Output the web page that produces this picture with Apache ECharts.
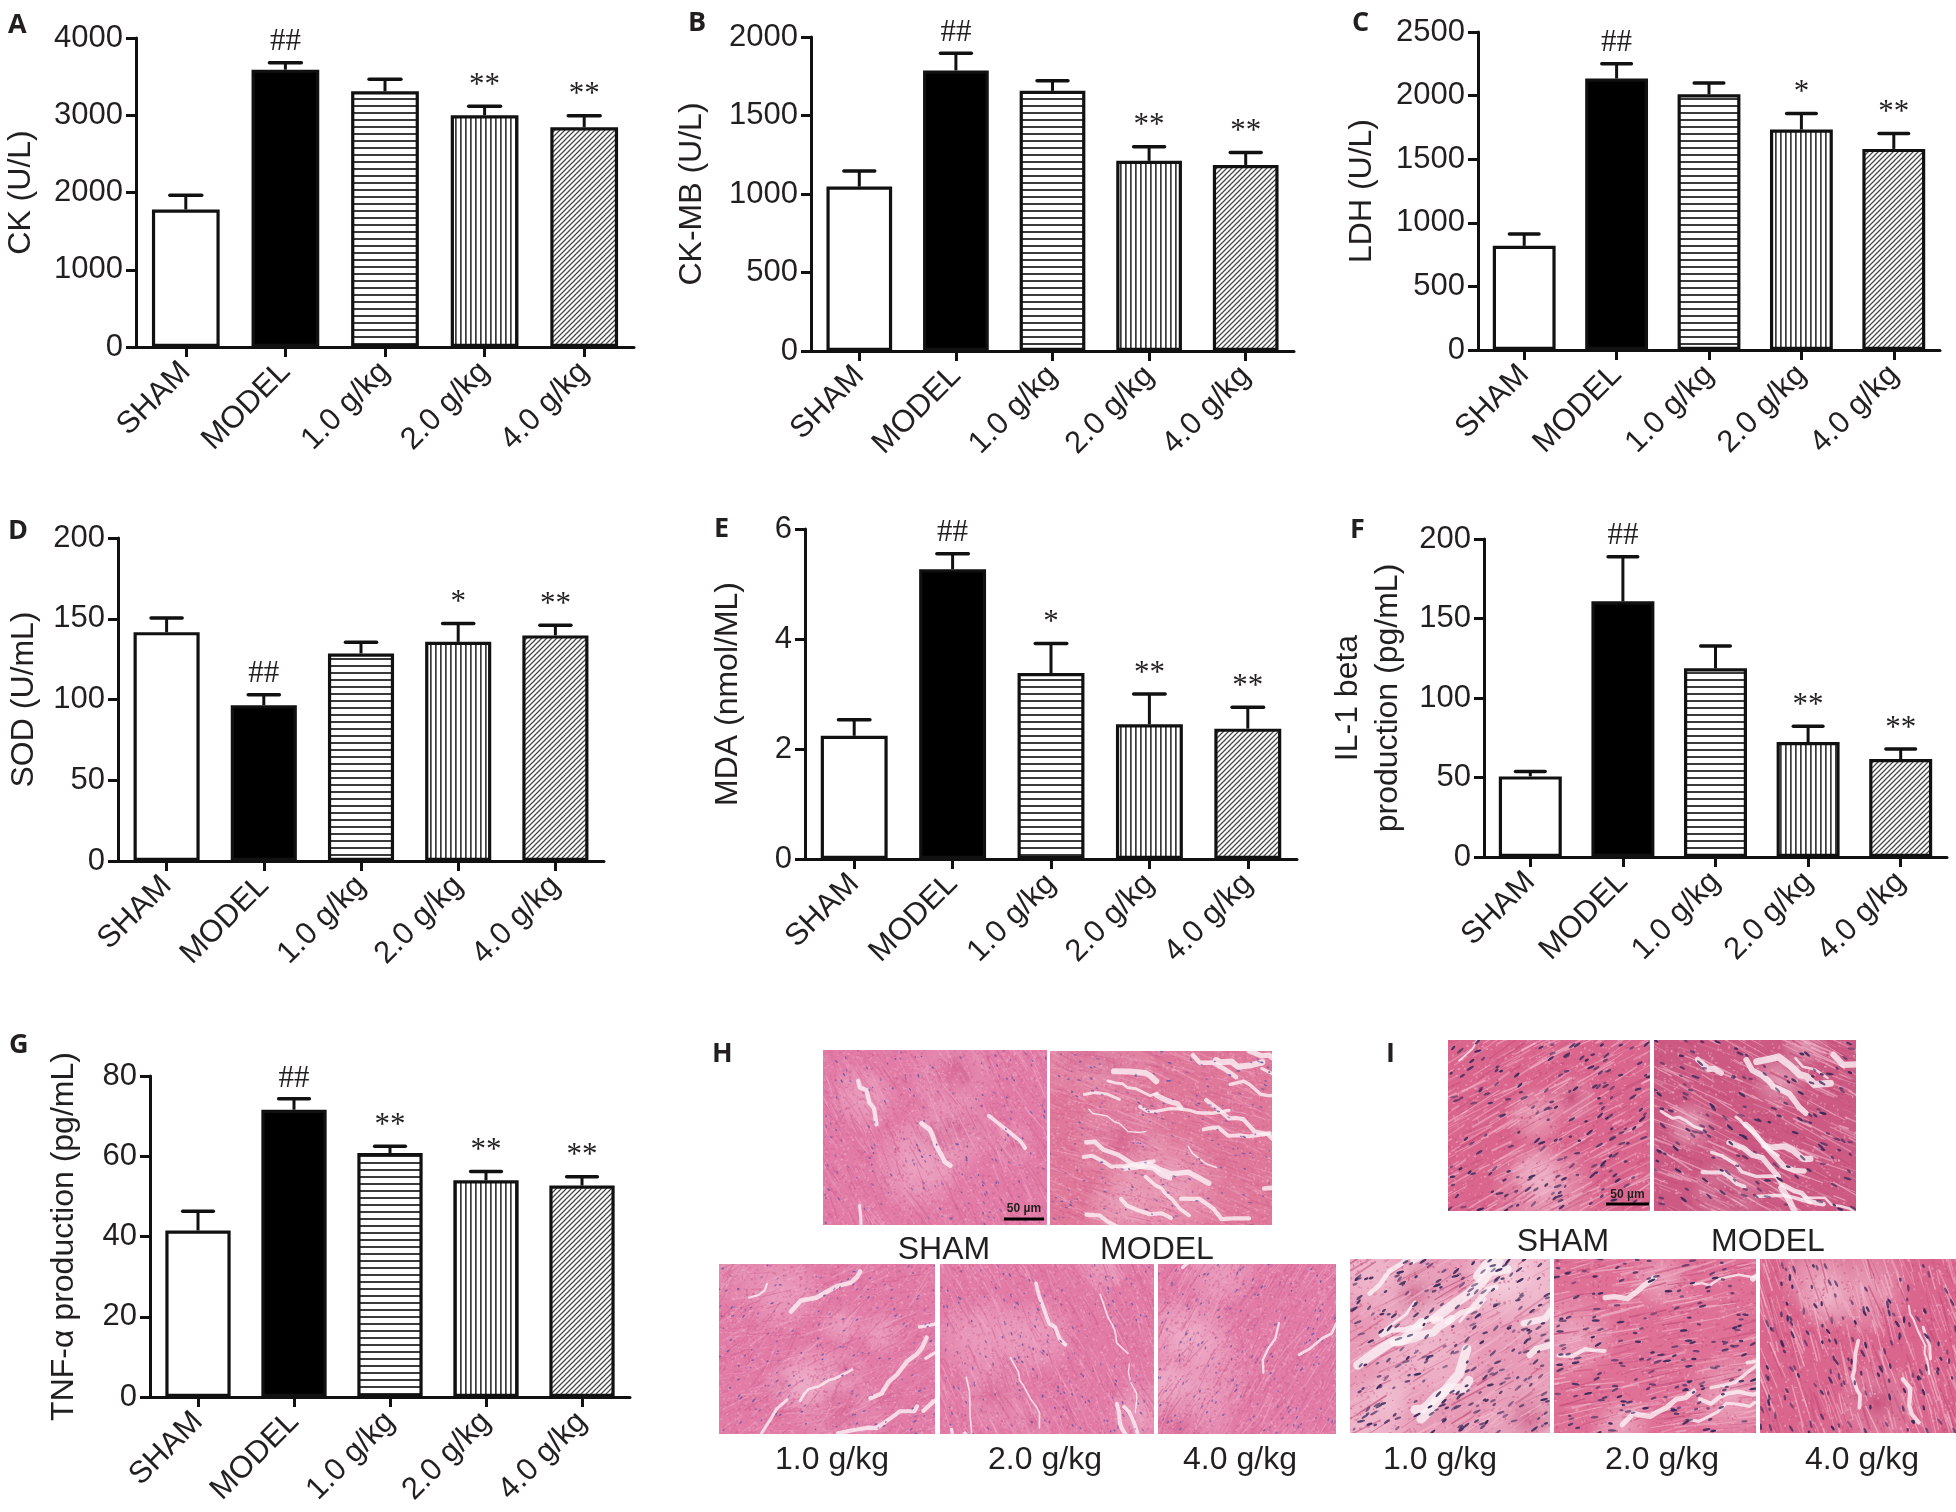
<!DOCTYPE html>
<html><head><meta charset="utf-8">
<script src="https://cdn.jsdelivr.net/npm/echarts@6/dist/echarts.min.js"></script>
<style>html,body{margin:0;padding:0;background:#fff}#c{width:1956px;height:1512px}</style>
</head><body><div id="c"></div>
<script>
// ---------------- data ----------------
const categories = ['SHAM', 'MODEL', '1.0 g/kg', '2.0 g/kg', '4.0 g/kg'];

const ckMean = [1780, 3590, 3310, 3000, 2845];
const ckErr  = [185, 90, 155, 115, 150];
const ckSig  = ['', '##', '', '**', '**'];
const ckTicks = [0, 1000, 2000, 3000, 4000];

const ckmbMean = [1047, 1787, 1657, 1211, 1185];
const ckmbErr  = [100, 110, 65, 90, 80];
const ckmbSig  = ['', '##', '', '**', '**'];
const ckmbTicks = [0, 500, 1000, 1500, 2000];

const ldhMean = [819, 2134, 2010, 1733, 1581];
const ldhErr  = [92, 117, 89, 126, 121];
const ldhSig  = ['', '##', '', '*', '**'];
const ldhTicks = [0, 500, 1000, 1500, 2000, 2500];

const sodMean = [141.7, 96.5, 128.5, 135.7, 139.7];
const sodErr  = [8.7, 6.4, 7.0, 11.4, 6.3];
const sodSig  = ['', '##', '', '*', '**'];
const sodTicks = [0, 50, 100, 150, 200];

const mdaMean = [2.24, 5.27, 3.38, 2.45, 2.37];
const mdaErr  = [0.29, 0.28, 0.54, 0.55, 0.39];
const mdaSig  = ['', '##', '*', '**', '**'];
const mdaTicks = [0, 2, 4, 6];

const il1Mean = [50.7, 160.8, 118.7, 72.3, 61.6];
const il1Err  = [3.0, 28.0, 14.0, 10.0, 6.3];
const il1Sig  = ['', '##', '', '**', '**'];
const il1Ticks = [0, 50, 100, 150, 200];

const tnfMean = [41.5, 71.6, 60.8, 54.0, 52.7];
const tnfErr  = [4.8, 2.7, 1.7, 2.2, 2.2];
const tnfSig  = ['', '##', '**', '**', '**'];
const tnfTicks = [0, 20, 40, 60, 80];

const histoLabelsTop = ['SHAM', 'MODEL'];
const histoLabelsBottom = ['1.0 g/kg', '2.0 g/kg', '4.0 g/kg'];
const scaleText = '50 µm';

// ---------------- styling helpers ----------------
const INK = '#231f20';
const SANS = '"Liberation Sans", Arial, sans-serif';

function patternCanvas(type) {
  const c = document.createElement('canvas');
  const g = c.getContext('2d');
  if (type === 'h') {
    c.width = 8; c.height = 7;
    g.fillStyle = '#fff'; g.fillRect(0, 0, 8, 7);
    g.fillStyle = '#3a3a3a'; g.fillRect(0, 0, 8, 2);
  } else if (type === 'v') {
    c.width = 5; c.height = 8;
    g.fillStyle = '#fff'; g.fillRect(0, 0, 5, 8);
    g.fillStyle = '#3a3a3a'; g.fillRect(0, 0, 1.7, 8);
  } else {
    c.width = 5; c.height = 5;
    g.fillStyle = '#fff'; g.fillRect(0, 0, 5, 5);
    g.strokeStyle = '#4a4a4a'; g.lineWidth = 1.3;
    g.beginPath();
    g.moveTo(-1, 6); g.lineTo(6, -1);
    g.moveTo(-1, 1); g.lineTo(1, -1);
    g.moveTo(4, 6); g.lineTo(6, 4);
    g.stroke();
  }
  return c;
}
const fills = [
  '#ffffff',
  '#000000',
  { image: patternCanvas('h'), repeat: 'repeat' },
  { image: patternCanvas('v'), repeat: 'repeat' },
  { image: patternCanvas('d'), repeat: 'repeat' }
];

// ---------------- panels ----------------
const panels = [
  { g: { left: 136, top: 38, width: 498, height: 309 }, ticks: ckTicks, name: 'CK (U/L)', gap: 95, mean: ckMean, err: ckErr, sig: ckSig },
  { g: { left: 811, top: 37, width: 483, height: 314 }, ticks: ckmbTicks, name: 'CK-MB (U/L)', gap: 99, mean: ckmbMean, err: ckmbErr, sig: ckmbSig },
  { g: { left: 1478, top: 32, width: 462, height: 318 }, ticks: ldhTicks, name: 'LDH (U/L)', gap: 96, mean: ldhMean, err: ldhErr, sig: ldhSig },
  { g: { left: 118, top: 538, width: 486, height: 323 }, ticks: sodTicks, name: 'SOD (U/mL)', gap: 74, mean: sodMean, err: sodErr, sig: sodSig },
  { g: { left: 805, top: 529, width: 492, height: 330 }, ticks: mdaTicks, name: 'MDA (nmol/ML)', gap: 57, mean: mdaMean, err: mdaErr, sig: mdaSig },
  { g: { left: 1484, top: 539, width: 463, height: 318 }, ticks: il1Ticks, name: 'IL-1 beta\nproduction (pg/mL)', gap: 76, mean: il1Mean, err: il1Err, sig: il1Sig },
  { g: { left: 150, top: 1076, width: 480, height: 321 }, ticks: tnfTicks, name: 'TNF-α production (pg/mL)', gap: 66, mean: tnfMean, err: tnfErr, sig: tnfSig }
];

function errRender(sigs) {
  return function (params, api) {
    const i = api.value(0), m = api.value(1), e = api.value(2);
    const base = api.coord([i, m]);
    const top = api.coord([i, m + e]);
    const band = api.size([1, 0])[0];
    const ch = band * 0.16;
    const kids = [
      { type: 'line', shape: { x1: base[0], y1: base[1], x2: top[0], y2: top[1] }, style: { stroke: '#111', lineWidth: 3 } },
      { type: 'line', shape: { x1: top[0] - ch, y1: top[1], x2: top[0] + ch, y2: top[1] }, style: { stroke: '#111', lineWidth: 3.5, lineCap: 'round' } }
    ];
    if (sigs[i]) {
      kids.push({ type: 'text', style: { text: sigs[i], x: top[0], y: top[1] - 5, align: 'center', textAlign: 'center', verticalAlign: 'bottom', textVerticalAlign: 'bottom', font: '31px "Liberation Serif", "Times New Roman", serif', fill: INK } });
    }
    return { type: 'group', children: kids };
  };
}

const grid = [], xAxis = [], yAxis = [], series = [];
panels.forEach((p, k) => {
  grid.push(Object.assign({ containLabel: false, outerBoundsMode: 'none' }, p.g));
  xAxis.push({
    gridIndex: k, type: 'category', data: categories,
    axisLine: { show: true, lineStyle: { color: '#111', width: 3 } },
    axisTick: { show: true, alignWithLabel: true, length: 10, lineStyle: { color: '#111', width: 3 } },
    axisLabel: { rotate: 45, interval: 0, fontSize: 31, fontFamily: SANS, color: INK, margin: 20 },
    splitLine: { show: false }
  });
  yAxis.push({
    gridIndex: k, type: 'value',
    min: p.ticks[0], max: p.ticks[p.ticks.length - 1], interval: p.ticks[1] - p.ticks[0],
    name: p.name, nameLocation: 'middle', nameRotate: 90, nameGap: p.gap, nameMoveOverlap: false,
    nameTextStyle: { fontSize: 32, fontFamily: SANS, color: INK, lineHeight: 40 },
    axisLine: { show: true, lineStyle: { color: '#111', width: 3 } },
    axisTick: { show: true, length: 10, lineStyle: { color: '#111', width: 3 } },
    axisLabel: { fontSize: 31, fontFamily: SANS, color: INK, margin: 13, formatter: v => String(v) },
    splitLine: { show: false }
  });
  series.push({
    type: 'bar', xAxisIndex: k, yAxisIndex: k, barWidth: '68%', silent: true,
    itemStyle: { borderColor: '#111', borderWidth: 3.2 },
    data: p.mean.map((v, i) => ({ value: v, itemStyle: { color: fills[i] } }))
  });
  series.push({
    type: 'custom', xAxisIndex: k, yAxisIndex: k, silent: true, z: 5,
    renderItem: errRender(p.sig),
    encode: { x: 0, y: 1 },
    data: p.mean.map((v, i) => [i, v, p.err[i]])
  });
});

// ---------------- tissue textures (decorative only) ----------------
function prng(seed) {
  return function () {
    seed |= 0; seed = seed + 0x6D2B79F5 | 0;
    let t = Math.imul(seed ^ seed >>> 15, 1 | seed);
    t = t + Math.imul(t ^ t >>> 7, 61 | t) ^ t;
    return ((t ^ t >>> 14) >>> 0) / 4294967296;
  };
}
function tissue(w, h, o) {
  const c = document.createElement('canvas'); c.width = w; c.height = h;
  const g = c.getContext('2d'); const r = prng(o.seed);
  g.fillStyle = o.base; g.fillRect(0, 0, w, h);
  for (let k = 0; k < o.patches; k++) {
    const x = r() * w, y = r() * h, rad = 20 + r() * 40;
    const grd = g.createRadialGradient(x, y, 0, x, y, rad);
    const col = r() < o.patchLight ? o.pale : o.deep;
    grd.addColorStop(0, col); grd.addColorStop(1, 'rgba(255,255,255,0)');
    g.globalAlpha = o.patchAlpha; g.fillStyle = grd;
    g.fillRect(x - rad, y - rad, rad * 2, rad * 2);
  }
  for (let k = 0; k < o.grain; k++) {
    g.globalAlpha = 0.2 + r() * 0.4;
    g.fillStyle = r() < 0.5 ? o.light : o.dark;
    g.fillRect(r() * w, r() * h, 1 + r() * 1.5, 1 + r() * 1.5);
  }
  for (let k = 0; k < o.streaks; k++) {
    const x = r() * w * 1.4 - w * 0.2, y = r() * h * 1.4 - h * 0.2;
    const a = o.angle + (r() - 0.5) * o.jitter;
    const L = 10 + r() * o.len;
    g.strokeStyle = r() < o.lightRatio ? o.light : o.dark;
    g.globalAlpha = o.sa0 + r() * o.sa1;
    g.lineWidth = 0.5 + r() * o.lw;
    g.beginPath(); g.moveTo(x, y); g.lineTo(x + Math.cos(a) * L, y + Math.sin(a) * L); g.stroke();
  }
  for (let k = 0; k < o.gaps; k++) {
    let x = r() * w, y = r() * h;
    const a = o.angle + (r() - 0.5) * 0.4;
    const segs = 3 + Math.floor(r() * 6);
    g.strokeStyle = '#fbf3f6'; g.lineCap = 'round'; g.lineJoin = 'round';
    g.lineWidth = o.gapW * (0.3 + r() * 0.9);
    g.globalAlpha = 0.8;
    g.beginPath(); g.moveTo(x, y);
    for (let s = 0; s < segs; s++) {
      const L = 5 + r() * 12;
      const aa = a + (r() - 0.5) * 1.1;
      x += Math.cos(aa) * L; y += Math.sin(aa) * L;
      g.lineTo(x, y);
    }
    g.stroke();
  }
  for (let k = 0; k < o.nuclei; k++) {
    const x = r() * w, y = r() * h;
    g.globalAlpha = 0.5 + r() * 0.5;
    g.fillStyle = o.nuc;
    g.beginPath();
    g.ellipse(x, y, o.nr * (0.6 + r() * 0.8), Math.max(0.8, o.nr * 0.4), o.angle + (r() - 0.5) * 0.7, 0, Math.PI * 2);
    g.fill();
  }
  g.globalAlpha = 1;
  return c;
}
const Hbase = { base: '#e27ca7', light: '#efabc7', dark: '#d0608f', pale: '#f4c8da', deep: '#cc4f82', nuc: '#6f5aa5',
  nr: 1.4, len: 24, jitter: 0.4, lw: 1.0, lightRatio: 0.55, sa0: 0.2, sa1: 0.35, streaks: 900, grain: 3200,
  nuclei: 160, gapW: 3.5, patches: 6, patchLight: 0.5, patchAlpha: 0.4 };
const Ibase = { base: '#da668d', light: '#f1b9cc', dark: '#c24c78', pale: '#f6d3e0', deep: '#b93d6c', nuc: '#3a2b5d',
  nr: 3.0, len: 36, jitter: 0.25, lw: 1.4, lightRatio: 0.7, sa0: 0.3, sa1: 0.4, streaks: 520, grain: 1200,
  nuclei: 160, gapW: 3, patches: 4, patchLight: 0.6, patchAlpha: 0.5 };
function hcfg(extra) { return Object.assign({}, Hbase, extra); }
function icfg(extra) { return Object.assign({}, Ibase, extra); }

const images = [
  { x: 823, y: 1050, w: 224, h: 175, o: hcfg({ seed: 11, angle: 1.05, gaps: 4, gapW: 4 }) },
  { x: 1050, y: 1051, w: 222, h: 174, o: hcfg({ seed: 12, angle: 0.35, gaps: 22, gapW: 5, base: '#e07899', streaks: 1000 }) },
  { x: 719, y: 1264, w: 216, h: 170, o: hcfg({ seed: 13, angle: -0.6, jitter: 1.2, gaps: 9, gapW: 4, patches: 10, patchLight: 0.45 }) },
  { x: 940, y: 1264, w: 214, h: 170, o: hcfg({ seed: 14, angle: 1.1, gaps: 9, gapW: 4 }) },
  { x: 1158, y: 1264, w: 178, h: 170, o: hcfg({ seed: 15, angle: -1.0, gaps: 3, gapW: 3 }) },
  { x: 1448, y: 1040, w: 202, h: 171, o: icfg({ seed: 21, angle: -0.5, gaps: 1, gapW: 2, nuclei: 170 }) },
  { x: 1654, y: 1040, w: 202, h: 171, o: icfg({ seed: 22, angle: 0.45, gaps: 16, gapW: 7, base: '#cc5a82', nuclei: 140 }) },
  { x: 1350, y: 1259, w: 200, h: 174, o: icfg({ seed: 23, angle: -0.55, gaps: 14, gapW: 9, base: '#e79ab6', nuclei: 240, patches: 10, patchLight: 0.8 }) },
  { x: 1554, y: 1259, w: 202, h: 174, o: icfg({ seed: 24, angle: -0.2, gaps: 9, gapW: 5, base: '#df7096', nuclei: 170 }) },
  { x: 1760, y: 1259, w: 196, h: 174, o: icfg({ seed: 25, angle: 1.25, gaps: 4, gapW: 5, nuclei: 140 }) }
];

const graphic = [];
function txt(text, x, y, font, align, va) {
  graphic.push({ type: 'text', x: x, y: y, silent: true,
    style: { text: text, font: font, fill: INK, align: align || 'left', textAlign: align || 'left', verticalAlign: va || 'middle', textVerticalAlign: va || 'middle' } });
}
images.forEach(im => {
  graphic.push({ type: 'image', x: im.x, y: im.y, silent: true, style: { image: tissue(im.w, im.h, im.o), width: im.w, height: im.h } });
});
[[1004, 1044, 1219, 1209], [1606, 1649, 1204, 1195]].forEach(s => {
  graphic.push({ type: 'line', silent: true, shape: { x1: s[0], y1: s[2], x2: s[1], y2: s[2] }, style: { stroke: '#000', lineWidth: 3 } });
  txt(scaleText, (s[0] + s[1]) / 2, s[3], 'bold 12px "Liberation Sans Narrow", "Liberation Sans", sans-serif', 'center', 'middle');
});
const capFont = '32px ' + SANS;
txt(histoLabelsTop[0], 944, 1250, capFont, 'center');
txt(histoLabelsTop[1], 1157, 1250, capFont, 'center');
txt(histoLabelsBottom[0], 832, 1460, capFont, 'center');
txt(histoLabelsBottom[1], 1045, 1460, capFont, 'center');
txt(histoLabelsBottom[2], 1240, 1460, capFont, 'center');
txt(histoLabelsTop[0], 1563, 1242, capFont, 'center');
txt(histoLabelsTop[1], 1768, 1242, capFont, 'center');
txt(histoLabelsBottom[0], 1440, 1460, capFont, 'center');
txt(histoLabelsBottom[1], 1662, 1460, capFont, 'center');
txt(histoLabelsBottom[2], 1862, 1460, capFont, 'center');
const letterFont = 'bold 27px "Open Sans", "DejaVu Sans", sans-serif';
[['A', 8, 25], ['B', 688, 23], ['C', 1352, 23], ['D', 8, 531], ['E', 714, 529], ['F', 1350, 530], ['G', 9, 1045], ['H', 712, 1054], ['I', 1386, 1054]]
  .forEach(l => txt(l[0], l[1], l[2], letterFont, 'left', 'middle'));

const chart = echarts.init(document.getElementById('c'), null, { renderer: 'canvas', width: 1956, height: 1512 });
chart.setOption({
  backgroundColor: '#ffffff',
  animation: false,
  grid: grid, xAxis: xAxis, yAxis: yAxis, series: series,
  graphic: graphic
});
</script>
</body></html>
